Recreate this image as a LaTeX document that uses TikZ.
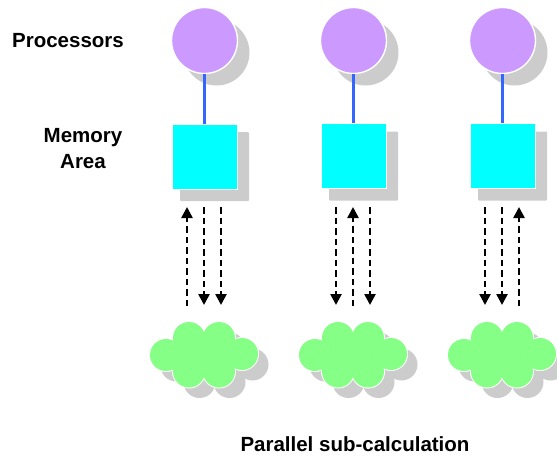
\documentclass[tikz,border=0pt]{standalone}
\usepackage{fontspec}
\setmainfont{Liberation Sans}
\usetikzlibrary{arrows.meta}
\definecolor{procfill}{RGB}{204,153,255}
\definecolor{memfill}{RGB}{0,255,255}
\definecolor{cloudfill}{RGB}{134,255,134}
\definecolor{shadowgray}{RGB}{204,204,204}
\definecolor{linkblue}{RGB}{51,102,255}
\tikzset{
  lbl/.style={font=\fontsize{20.5}{26}\selectfont\bfseries,align=center,inner sep=0pt},
  proc/.style={circle,fill=procfill,draw=white,line width=1.4pt,minimum size=66pt,inner sep=0pt},
  procshadow/.style={circle,fill=shadowgray,minimum size=66pt,inner sep=0pt},
  mem/.style={rectangle,fill=memfill,draw=white,line width=1pt,minimum size=65pt,inner sep=0pt},
  memshadow/.style={rectangle,fill=shadowgray,rounded corners=1pt,minimum size=69pt,inner sep=0pt},
  link/.style={draw=linkblue,line width=2.2pt},
  xfer/.style={draw=black,line width=2.5pt,dash pattern=on 6.5pt off 4pt,-{Triangle[length=11pt,width=11pt]}}
}
% one layer of a cloud: six circles and a filled middle
\newcommand{\cloudlayer}[5]{%
  \fill[#3] (#1+#4-22,#2+#4-17) rectangle (#1+#4+22,#2+#4+17);
  \foreach \cx/\cy in {-38/0,38/-1,-15/-17,15/-17,-15/16.5,15/16.5}
    \fill[#3] (#1+#4+\cx,#2+#4+\cy) circle[radius=#5];
}
\newcommand{\subcalc}[2]{%
  \cloudlayer{#1}{#2}{shadowgray}{10.5}{16}
  \cloudlayer{#1}{#2}{white}{0}{17}
  \cloudlayer{#1}{#2}{cloudfill}{0}{16}
}
\begin{document}
\begin{tikzpicture}[x=1pt,y=-1pt]
\useasboundingbox (0,0) rectangle (557,456);
\node[lbl] (proclbl) at (68,41) {Processors};
\node[lbl] (memlbl) at (83,149) {Memory\\Area};
\node[lbl] (parlbl) at (355,444) {Parallel sub-calculation};
% processors
\node[procshadow] (s1) at (216.5,52.5) {};
\node[procshadow] (s2) at (365.5,52.5) {};
\node[procshadow] (s3) at (514.5,52.5) {};
\node[proc] (p1) at (204.5,40.5) {};
\node[proc] (p2) at (353.5,40.5) {};
\node[proc] (p3) at (502.5,40.5) {};
% memory
\node[memshadow] (t1) at (214.5,166.5) {};
\node[memshadow] (t2) at (363.5,166) {};
\node[memshadow] (t3) at (512.5,166) {};
\node[mem] (m1) at (204.5,157) {};
\node[mem] (m2) at (353.5,156) {};
\node[mem] (m3) at (502.5,156) {};
\path[link] (p1) -- (m1);
\path[link] (p2) -- (m2);
\path[link] (p3) -- (m3);
% clouds
\subcalc{204}{355}
\subcalc{353}{355}
\subcalc{502}{355}
% transfers
\coordinate (a1) at (187,207); \coordinate (b1) at (187,306);
\coordinate (a2) at (204,207); \coordinate (b2) at (204,305);
\coordinate (a3) at (221,207); \coordinate (b3) at (221,305);
\coordinate (a4) at (336,207); \coordinate (b4) at (336,305);
\coordinate (a5) at (353,207); \coordinate (b5) at (353,306);
\coordinate (a6) at (370,207); \coordinate (b6) at (370,305);
\coordinate (a7) at (485,207); \coordinate (b7) at (485,305);
\coordinate (a8) at (502,207); \coordinate (b8) at (502,305);
\coordinate (a9) at (519,207); \coordinate (b9) at (519,306);
\path[xfer] (b1) -- (a1);
\path[xfer] (a2) -- (b2);
\path[xfer] (a3) -- (b3);
\path[xfer] (a4) -- (b4);
\path[xfer] (b5) -- (a5);
\path[xfer] (a6) -- (b6);
\path[xfer] (a7) -- (b7);
\path[xfer] (a8) -- (b8);
\path[xfer] (b9) -- (a9);
\end{tikzpicture}
\end{document}
